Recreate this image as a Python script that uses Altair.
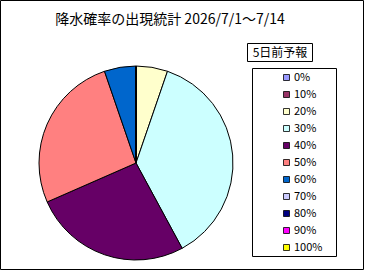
import altair as alt
import pandas as pd

# ---- data ----
categories = ["0%", "10%", "20%", "30%", "40%", "50%", "60%", "70%", "80%", "90%", "100%"]
counts = [0, 0, 1, 7, 5, 5, 1, 0, 0, 0, 0]
colors = ["#9999FF", "#993366", "#FFFFCC", "#CCFFFF", "#660066", "#FF8080",
          "#0066CC", "#CCCCFF", "#000080", "#FF00FF", "#FFFF00"]
title_text = "降水確率の出現統計 2026/7/1～7/14"
legend_title = "5日前予報"

FONT = "Noto Sans CJK JP"

df = pd.DataFrame({"cat": categories, "count": counts, "idx": list(range(len(categories)))})
one = pd.DataFrame({"k": [0]})

W, H = 365, 271

frame = alt.Chart(one).mark_rect(fill="white", stroke="black", strokeWidth=1).encode(
    x=alt.value(0.5), x2=alt.value(W - 1.5), y=alt.value(0.5), y2=alt.value(H - 1.5)
)

pie = alt.Chart(df).mark_arc(radius=97, stroke="black", strokeWidth=1).encode(
    theta=alt.Theta("count:Q", stack=True),
    color=alt.Color(
        "cat:N",
        scale=alt.Scale(domain=categories, range=colors),
        sort=categories,
        legend=alt.Legend(
            title=None,
            orient="none",
            legendX=281,
            legendY=72,
            symbolType="square",
            symbolSize=36,
            symbolStrokeColor="black",
            symbolStrokeWidth=0.8,
            symbolOpacity=1,
            labelFont=FONT,
            labelFontSize=11,
            labelColor="black",
            labelOffset=2,
            rowPadding=5,
            padding=0,
        ),
    ),
    order=alt.Order("idx:Q"),
    x=alt.value(136),
    y=alt.value(163),
)

title = alt.Chart(one).mark_text(
    font=FONT, fontSize=14, color="black", align="center", baseline="middle"
).encode(x=alt.value(170), y=alt.value(20), text=alt.value(title_text))

ltitle_box = alt.Chart(one).mark_rect(fill="white", stroke="black", strokeWidth=1).encode(
    x=alt.value(247.5), x2=alt.value(312.5), y=alt.value(43.5), y2=alt.value(61.5)
)
ltitle = alt.Chart(one).mark_text(
    font=FONT, fontSize=12, color="black", align="center", baseline="middle"
).encode(x=alt.value(280), y=alt.value(52.5), text=alt.value(legend_title))

legend_box = alt.Chart(one).mark_rect(fill="white", stroke="black", strokeWidth=1).encode(
    x=alt.value(252.5), x2=alt.value(336.5), y=alt.value(68.5), y2=alt.value(256.5)
)

chart = alt.layer(frame, legend_box, ltitle_box, ltitle, title, pie).properties(
    width=W, height=H, autosize=alt.AutoSizeParams(type="none"), padding=0,
    background="white",
).configure_view(stroke=None).resolve_scale(color="independent")

chart.save("out.html", embed_options={"renderer": "svg", "actions": False})
